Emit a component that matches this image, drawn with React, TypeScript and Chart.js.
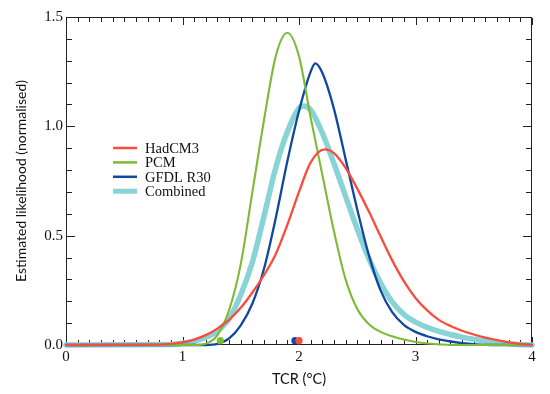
import React, { useEffect, useRef } from 'react';
import { Chart, registerables } from 'chart.js';
Chart.register(...registerables);

// ---- data ----
const seriesNames = ['HadCM3', 'PCM', 'GFDL R30', 'Combined'];

const hadX = [0, 0.8, 1.0, 1.1, 1.2, 1.3, 1.4, 1.5, 1.6, 1.7, 1.8, 1.9, 2.0, 2.1, 2.22, 2.3, 2.4, 2.5, 2.6, 2.7, 2.8, 2.9, 3.0, 3.1, 3.2, 3.3, 3.4, 3.5, 3.6, 3.7, 3.8, 3.9, 4.0];
const hadY = [0, 0.002, 0.012, 0.025, 0.045, 0.075, 0.115, 0.17, 0.24, 0.32, 0.415, 0.55, 0.70, 0.835, 0.895, 0.878, 0.81, 0.715, 0.61, 0.497, 0.387, 0.292, 0.215, 0.158, 0.115, 0.087, 0.065, 0.048, 0.034, 0.022, 0.012, 0.005, 0];

const pcmX = [0, 1.1, 1.2, 1.3, 1.4, 1.5, 1.6, 1.7, 1.8, 1.9, 2.0, 2.1, 2.2, 2.3, 2.4, 2.5, 2.6, 2.7, 2.8, 2.9, 3.0, 3.1, 3.2, 3.3, 4.0];
const pcmY = [0, 0, 0.006, 0.045, 0.16, 0.37, 0.70, 1.03, 1.32, 1.428, 1.32, 1.04, 0.78, 0.52, 0.30, 0.165, 0.095, 0.06, 0.04, 0.025, 0.014, 0.007, 0.003, 0, 0];

const gfdlX = [0, 1.2, 1.3, 1.4, 1.5, 1.6, 1.7, 1.8, 1.9, 2.0, 2.1, 2.14, 2.2, 2.3, 2.4, 2.5, 2.6, 2.7, 2.8, 2.9, 3.0, 3.1, 3.2, 3.3, 3.4, 3.5, 3.6, 3.7, 4.0];
const gfdlY = [0, 0, 0.005, 0.03, 0.09, 0.19, 0.35, 0.58, 0.84, 1.07, 1.25, 1.288, 1.245, 1.08, 0.85, 0.62, 0.41, 0.25, 0.15, 0.092, 0.06, 0.04, 0.026, 0.016, 0.009, 0.004, 0.001, 0, 0];

const combX = [0, 0.9, 1.0, 1.1, 1.2, 1.3, 1.4, 1.5, 1.6, 1.7, 1.8, 1.9, 2.0, 2.04, 2.1, 2.2, 2.3, 2.4, 2.5, 2.6, 2.7, 2.8, 2.9, 3.0, 3.1, 3.2, 3.3, 3.4, 3.5, 3.6, 3.7, 3.8, 3.9, 4.0];
const combY = [0, 0.002, 0.008, 0.018, 0.035, 0.065, 0.12, 0.23, 0.38, 0.59, 0.81, 0.975, 1.083, 1.093, 1.075, 0.97, 0.83, 0.68, 0.53, 0.395, 0.283, 0.197, 0.14, 0.105, 0.081, 0.062, 0.048, 0.036, 0.026, 0.018, 0.011, 0.006, 0.002, 0];

// best-estimate markers (PCM, GFDL R30, HadCM3)
const dotX = [1.325, 1.965, 2.0];
const dotY = [0.02, 0.02, 0.02];

const xTicks = [0, 1, 2, 3, 4];
const yTicks = [0, 0.5, 1.0, 1.5];

// ---- styles ----
const RED = '#fb4b3c';
const GREEN = '#7dbb34';
const BLUE = '#1247a0';
const CYAN = '#88d3d6';
const AXIS = '#222222';
const seriesColors = [RED, GREEN, BLUE, CYAN];
const seriesWidths = [2.3, 2.1, 2.3, 5.5];
const dotColors = [GREEN, BLUE, RED];

const pts = (xs: number[], ys: number[]) => xs.map((x, i) => ({ x, y: ys[i] }));

function drawFrame(chart: any) {
  const ctx = chart.ctx;
  const area = chart.chartArea;
  const xs = chart.scales['x'];
  const ys = chart.scales['y'];
  const L = Math.round(area.left);
  const R = Math.round(area.right) - 1;
  const T = Math.round(area.top);
  const B = Math.round(area.bottom) - 1;
  ctx.save();
  ctx.globalAlpha = 1;
  ctx.fillStyle = AXIS;
  ctx.fillRect(L, T, R - L + 1, 1);
  ctx.fillRect(L, B, R - L + 1, 1);
  ctx.fillRect(L, T, 1, B - T + 1);
  ctx.fillRect(R, T, 1, B - T + 1);
  const x0 = xTicks[0], x1 = xTicks[xTicks.length - 1];
  const nx = Math.round((x1 - x0) * 10);
  for (let i = 0; i <= nx; i++) {
    const px = Math.round(xs.getPixelForValue(x0 + i / 10));
    const len = i % 10 === 0 ? 7 : 4;
    ctx.fillRect(px, B - len, 1, len);
    ctx.fillRect(px, T + 1, 1, len);
  }
  const y0 = yTicks[0], y1 = yTicks[yTicks.length - 1];
  const ny = Math.round((y1 - y0) * 10);
  for (let i = 0; i <= ny; i++) {
    const py = Math.round(ys.getPixelForValue(y0 + i / 10));
    const len = i % 5 === 0 ? 8 : 5;
    ctx.fillRect(L + 1, py, len, 1);
    ctx.fillRect(R - len, py, len, 1);
  }
  ctx.restore();
}

const framePlugin = {
  id: 'frameTicks',
  beforeDatasetsDraw(chart: any) {
    drawFrame(chart);
  },
};

const legendPlugin = {
  id: 'innerLegend',
  afterDraw(chart: any) {
    const { ctx, chartArea } = chart;
    const x0 = chartArea.left + 47;
    const y0 = chartArea.top + 131;
    const rowH = 14.4;
    ctx.save();
    ctx.font = '14.5px "Liberation Serif", "Times New Roman", serif';
    ctx.fillStyle = '#111';
    ctx.textAlign = 'left';
    ctx.textBaseline = 'alphabetic';
    seriesNames.forEach((name, i) => {
      const cy = y0 + i * rowH;
      ctx.strokeStyle = seriesColors[i];
      ctx.lineWidth = i === 3 ? 5 : 2.5;
      ctx.beginPath();
      ctx.moveTo(x0, cy);
      ctx.lineTo(x0 + 24, cy);
      ctx.stroke();
      ctx.fillText(name, x0 + 32, cy + 5);
    });
    ctx.restore();
  },
};

export default function App() {
  const ref = useRef<HTMLCanvasElement | null>(null);
  useEffect(() => {
    if (!ref.current) return;
    const lineDs = seriesNames.map((name, i) => {
      const xs = [hadX, pcmX, gfdlX, combX][i];
      const ys = [hadY, pcmY, gfdlY, combY][i];
      return {
        type: 'line' as const,
        label: name,
        data: pts(xs, ys),
        borderColor: seriesColors[i],
        backgroundColor: seriesColors[i],
        borderWidth: seriesWidths[i],
        pointRadius: 0,
        fill: false,
        cubicInterpolationMode: 'monotone' as const,
        clip: false as any,
        order: 1,
        borderCapStyle: 'round' as const,
      };
    });
    const dotDs = {
      type: 'scatter' as const,
      label: 'best',
      data: pts(dotX, dotY),
      pointRadius: 3.6,
      pointBackgroundColor: dotColors,
      pointBorderWidth: 0,
      showLine: false,
      clip: false as any,
      order: 0,
    };
    const chart = new Chart(ref.current, {
      type: 'line',
      data: { datasets: [...lineDs, dotDs] as any },
      options: {
        animation: false,
        responsive: false,
        maintainAspectRatio: false,
        layout: { padding: { left: 0, right: 18, top: 17, bottom: 0 } },
        plugins: { legend: { display: false }, tooltip: { enabled: false } },
        scales: {
          x: {
            type: 'linear',
            min: 0,
            max: 4,
            grid: { display: false, drawTicks: false },
            border: { display: false },
            afterBuildTicks: (s: any) => { s.ticks = xTicks.map((v) => ({ value: v })); },
            afterFit: (s: any) => { s.height = 49; },
            ticks: {
              padding: 3,
              color: '#111',
              maxRotation: 0,
              font: { family: '"Liberation Serif", "Times New Roman", serif', size: 15 },
              callback: (v: any) => String(v),
            },
            title: {
              display: true,
              text: 'TCR (°C)',
              color: '#111',
              font: { family: 'Lato, "Liberation Sans", sans-serif', size: 14.5 },
              padding: { top: 0, bottom: 6 },
            },
          },
          y: {
            type: 'linear',
            min: 0,
            max: 1.5,
            grid: { display: false, drawTicks: false },
            border: { display: false },
            afterBuildTicks: (s: any) => { s.ticks = yTicks.map((v) => ({ value: v })); },
            afterFit: (s: any) => { s.width = 66; },
            ticks: {
              padding: 3,
              color: '#111',
              font: { family: '"Liberation Serif", "Times New Roman", serif', size: 15 },
              callback: (v: any) => Number(v).toFixed(1),
            },
            title: {
              display: true,
              text: 'Estimated likelihood (normalised)',
              color: '#111',
              font: { family: 'Lato, "Liberation Sans", sans-serif', size: 14 },
              padding: { top: 13.5, bottom: 0 },
            },
          },
        },
      },
      plugins: [framePlugin, legendPlugin],
    });
    return () => chart.destroy();
  }, []);
  return (
    <div style={{ position: 'fixed', left: 0, top: 0, width: 550, height: 394, background: '#fff' }}>
      <canvas ref={ref} width={550} height={394} style={{ display: 'block', width: 550, height: 394 }} />
    </div>
  );
}
